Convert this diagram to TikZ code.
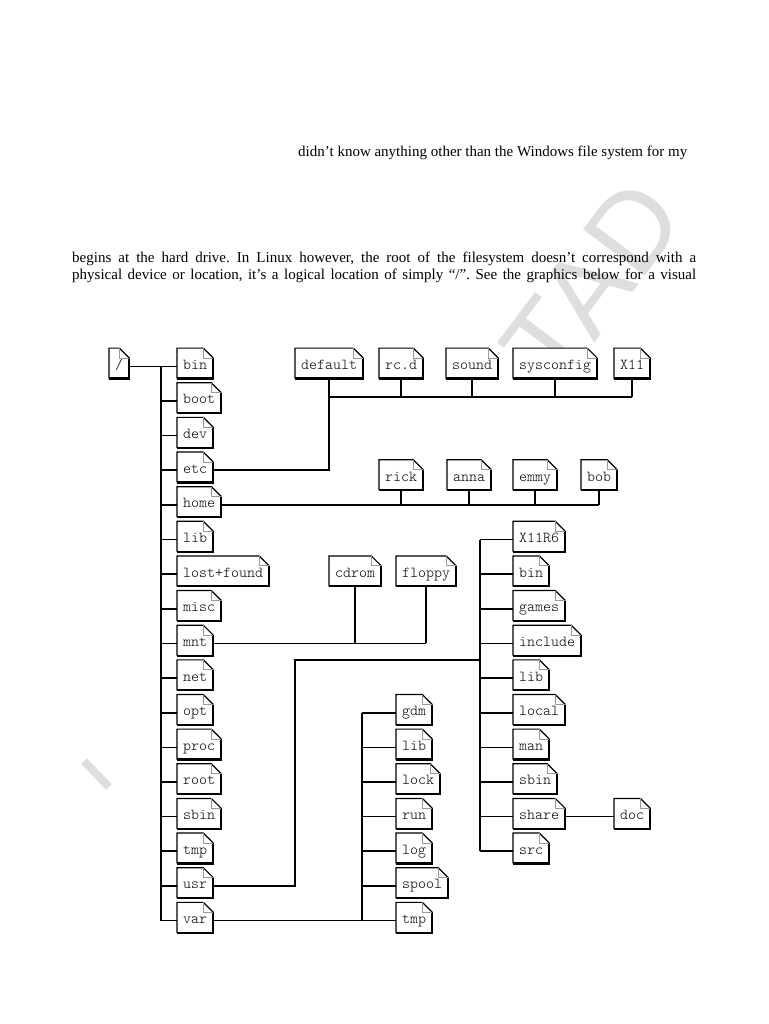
\documentclass[tikz,border=0pt]{standalone}
\usepackage{fontspec}
\setmainfont{Liberation Serif}
\newfontfamily\wmfont{Liberation Sans}
\newfontfamily\lightmono{lmmonolt10-regular.otf}
\newcommand\filefont{\lightmono\fontsize{15.2}{16}\selectfont}
\newcommand\bodyfont{\fontsize{15}{16.7}\selectfont\frenchspacing}
% file icon node: name, left x, row index, text
\newcommand\fnode[4]{%
  \node[filebox] (#1) at (#2,{363.3+34.64*(#3)}) {#4\hspace{8pt}};
  \coordinate (#1-l) at ([yshift=-3pt]#1.west);
  \coordinate (#1-r) at ([yshift=-3pt]#1.east);
  \draw[thinedge] ([yshift=-10pt]#1.north east) -- ([xshift=-10pt]#1.north east) -- (#1.north west) -- (#1.south west);
  \draw[thickedge] ([yshift=-10pt]#1.north east) -- (#1.south east) -- (#1.south west);
  \draw[foldedge] ([xshift=-10pt]#1.north east) -- ([xshift=-10pt,yshift=-10pt]#1.north east) -- ([yshift=-10pt]#1.north east);
}
\begin{document}
\begin{tikzpicture}[x=1pt,y=-1pt,
  filebox/.style={rectangle, anchor=west, fill=white, minimum height=30pt, inner xsep=6pt, inner ysep=0pt, text height=12pt, text depth=0pt, font=\filefont},
  thinedge/.style={line width=1.2pt},
  thickedge/.style={line width=2.2pt, line cap=square},
  foldedge/.style={line width=0.9pt, draw=black!40},
  conn/.style={line width=1.6pt},
  body/.style={anchor=base west, inner sep=0pt, font=\bodyfont},
  watermark/.style={text=black!13, font=\wmfont\fontsize{112}{112}\selectfont},
]
\useasboundingbox (0,0) rectangle (768,1024);

% faint watermark
\node[watermark, rotate=53] (wm) at (592,282) {TAD};
\draw[line width=8pt, black!13] (84,761) -- (109,787);

% text
\node[body] (t0) at (298,156.7) {didn’t know anything other than the Windows file system for my};
\node[body] (t1) at (72,262.7) {\makebox[624pt][s]{begins at the hard drive. In Linux however, the root of the filesystem doesn’t correspond with a}};
\node[body] (t2) at (72,279.3) {\makebox[624pt][s]{physical device or location, it’s a logical location of simply “/”. See the graphics below for a visual}};

% root
\fnode{slash}{109}{0}{/}
% first level
\fnode{bin}{177}{0}{bin}
\fnode{boot}{177}{1}{boot}
\fnode{dev}{177}{2}{dev}
\fnode{etc}{177}{3}{etc}
\fnode{home}{177}{4}{home}
\fnode{lib}{177}{5}{lib}
\fnode{lostfound}{177}{6}{lost+found}
\fnode{misc}{177}{7}{misc}
\fnode{mnt}{177}{8}{mnt}
\fnode{net}{177}{9}{net}
\fnode{opt}{177}{10}{opt}
\fnode{proc}{177}{11}{proc}
\fnode{root}{177}{12}{root}
\fnode{sbin}{177}{13}{sbin}
\fnode{tmp}{177}{14}{tmp}
\fnode{usr}{177}{15}{usr}
\fnode{var}{177}{16}{var}
% etc children
\fnode{default}{295}{0}{default}
\fnode{rcd}{379}{0}{rc.d}
\fnode{sound}{446}{0}{sound}
\fnode{sysconfig}{513}{0}{sysconfig}
\fnode{x11}{614}{0}{X11}
% home children
\fnode{rick}{379}{3.2246}{rick}
\fnode{anna}{447}{3.2246}{anna}
\fnode{emmy}{513}{3.2246}{emmy}
\fnode{bob}{581}{3.2246}{bob}
% mnt children
\fnode{cdrom}{329}{6}{cdrom}
\fnode{floppy}{396}{6}{floppy}
% usr children
\fnode{x11r6}{513}{5}{X11R6}
\fnode{ubin}{513}{6}{bin}
\fnode{games}{513}{7}{games}
\fnode{include}{513}{8}{include}
\fnode{ulib}{513}{9}{lib}
\fnode{local}{513}{10}{local}
\fnode{man}{513}{11}{man}
\fnode{usbin}{513}{12}{sbin}
\fnode{share}{513}{13}{share}
\fnode{src}{513}{14}{src}
\fnode{doc}{614}{13}{doc}
% var children
\fnode{gdm}{396}{10}{gdm}
\fnode{vlib}{396}{11}{lib}
\fnode{lock}{396}{12}{lock}
\fnode{run}{396}{13}{run}
\fnode{log}{396}{14}{log}
\fnode{spool}{396}{15}{spool}
\fnode{vtmp}{396}{16}{tmp}

% connectors
\coordinate (trunk) at (161,0);
\draw[conn] (slash-r) -- (bin-l);
\draw[conn] (trunk |- bin-l) -- (trunk |- var-l);
\foreach \n in {boot,dev,etc,home,lib,lostfound,misc,mnt,net,opt,proc,root,sbin,tmp,usr,var}
  \draw[conn] (trunk |- \n-l) -- (\n-l);

\coordinate (ebus) at (0,397);
\draw[conn] (etc-r) -- (etc-r -| default.south) -- (default.south);
\draw[conn] (default.south |- ebus) -- (x11.south |- ebus);
\foreach \n in {rcd,sound,sysconfig,x11}
  \draw[conn] (\n.south) -- (\n.south |- ebus);

\draw[conn] (home-r) -- (home-r -| bob.south);
\foreach \n in {rick,anna,emmy,bob}
  \draw[conn] (\n.south) -- (\n.south |- home-r);

\draw[conn] (mnt-r) -- (mnt-r -| floppy.south);
\foreach \n in {cdrom,floppy}
  \draw[conn] (\n.south) -- (\n.south |- mnt-r);

\coordinate (ujog) at (295,660);
\coordinate (utrunk) at (480,0);
\draw[conn] (usr-r) -- (usr-r -| ujog) -- (ujog) -- (ujog -| utrunk);
\draw[conn] (utrunk |- x11r6-l) -- (utrunk |- src-l);
\foreach \n in {x11r6,ubin,games,include,ulib,local,man,usbin,share,src}
  \draw[conn] (utrunk |- \n-l) -- (\n-l);
\draw[conn] (share-r) -- (doc-l);

\coordinate (vtrunk) at (362,0);
\draw[conn] (var-r) -- (var-r -| vtrunk);
\draw[conn] (vtrunk |- gdm-l) -- (vtrunk |- vtmp-l);
\foreach \n in {gdm,vlib,lock,run,log,spool,vtmp}
  \draw[conn] (vtrunk |- \n-l) -- (\n-l);
\end{tikzpicture}
\end{document}
